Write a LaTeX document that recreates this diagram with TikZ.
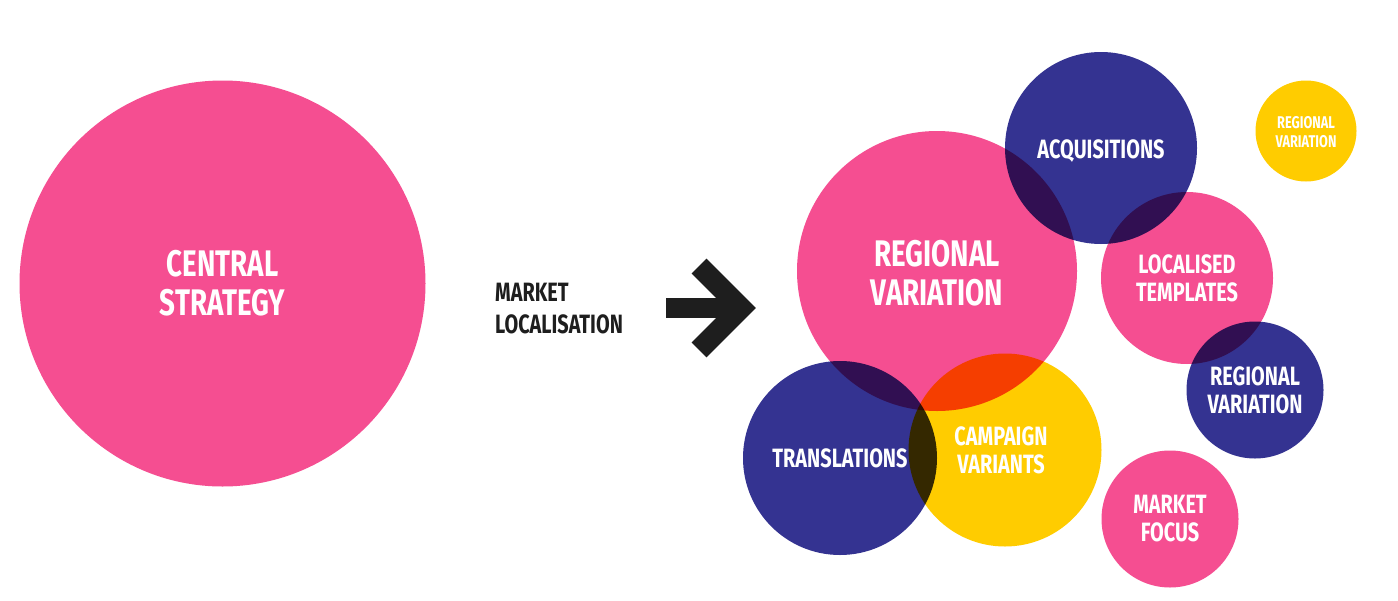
\documentclass[tikz,border=0pt]{standalone}
\usepackage{fontspec}
\newfontfamily\condfont[FakeStretch=0.75]{Fira Sans}
\usepackage{tikz}
\usetikzlibrary{positioning}
\definecolor{bubblepink}{HTML}{F54E91}
\definecolor{bubblenavy}{HTML}{343391}
\definecolor{bubbleyellow}{HTML}{FFCC00}
\definecolor{arrowink}{HTML}{1E1E1E}

\begin{document}
\begin{tikzpicture}[
    x=1pt, y=-1pt,
    bubble/.style={circle, fill=#1, draw=none, inner sep=0pt},
    bubble/.default={bubblepink},
    bigtag/.style={text=white, align=center, inner sep=0pt, font=\condfont\bfseries\fontsize{37}{39}\selectfont},
    tag/.style={text=white, align=center, inner sep=0pt, font=\condfont\bfseries\fontsize{26.5}{28}\selectfont},
    smalltag/.style={text=white, align=center, inner sep=0pt, font=\condfont\bfseries\fontsize{17}{18.5}\selectfont}
]
\useasboundingbox[fill=white] (0,0) rectangle (1398,600);

% Bubbles, overlaps multiplied
\begin{scope}[blend mode=multiply]
\node[bubble, minimum size=406] (cs) at (222.5,283.5) {};
\node[bubble, minimum size=280] (rv) at (937,271) {};
\node[bubble=bubblenavy, minimum size=192] (acq) at (1101,148) {};
\node[bubble=bubbleyellow, minimum size=101] (rvs) at (1306,131) {};
\node[bubble, minimum size=172] (lt) at (1187,278) {};
\node[bubble=bubblenavy, minimum size=137] (rvr) at (1255,390) {};
\node[bubble, minimum size=137] (mf) at (1170,519) {};
\node[bubble=bubblenavy, minimum size=194] (tr) at (840,458) {};
\node[bubble=bubbleyellow, minimum size=193] (cv) at (1005,450) {};
\end{scope}

% Labels
\node[bigtag] at (cs) {CENTRAL\\STRATEGY};
\node[bigtag] at ([yshift=-2]rv.center) {REGIONAL\\VARIATION};
\node[tag] at ([yshift=-3]acq.center) {ACQUISITIONS};
\node[smalltag] at ([yshift=-1]rvs.center) {REGIONAL\\VARIATION};
\node[tag] at (lt) {LOCALISED\\TEMPLATES};
\node[tag] at (rvr) {REGIONAL\\VARIATION};
\node[tag] at (mf) {MARKET\\FOCUS};
\node[tag] at (tr) {TRANSLATIONS};
\node[tag] at ([xshift=-4]cv.center) {CAMPAIGN\\VARIANTS};

% Step arrow
\node[tag, text=arrowink, align=left, anchor=west, font=\condfont\bfseries\fontsize{26.5}{32}\selectfont] (ml) at (495,309) {MARKET\\LOCALISATION};
\coordinate (shaft) at (666,308);
\coordinate (tip) at (741,308);
\draw[arrowink, line width=20] (shaft) -- (tip);
\draw[arrowink, line width=21, miter limit=4] ([shift={(-42,-42)}]tip) -- (tip) -- ([shift={(-42,42)}]tip);

\end{tikzpicture}
\end{document}
